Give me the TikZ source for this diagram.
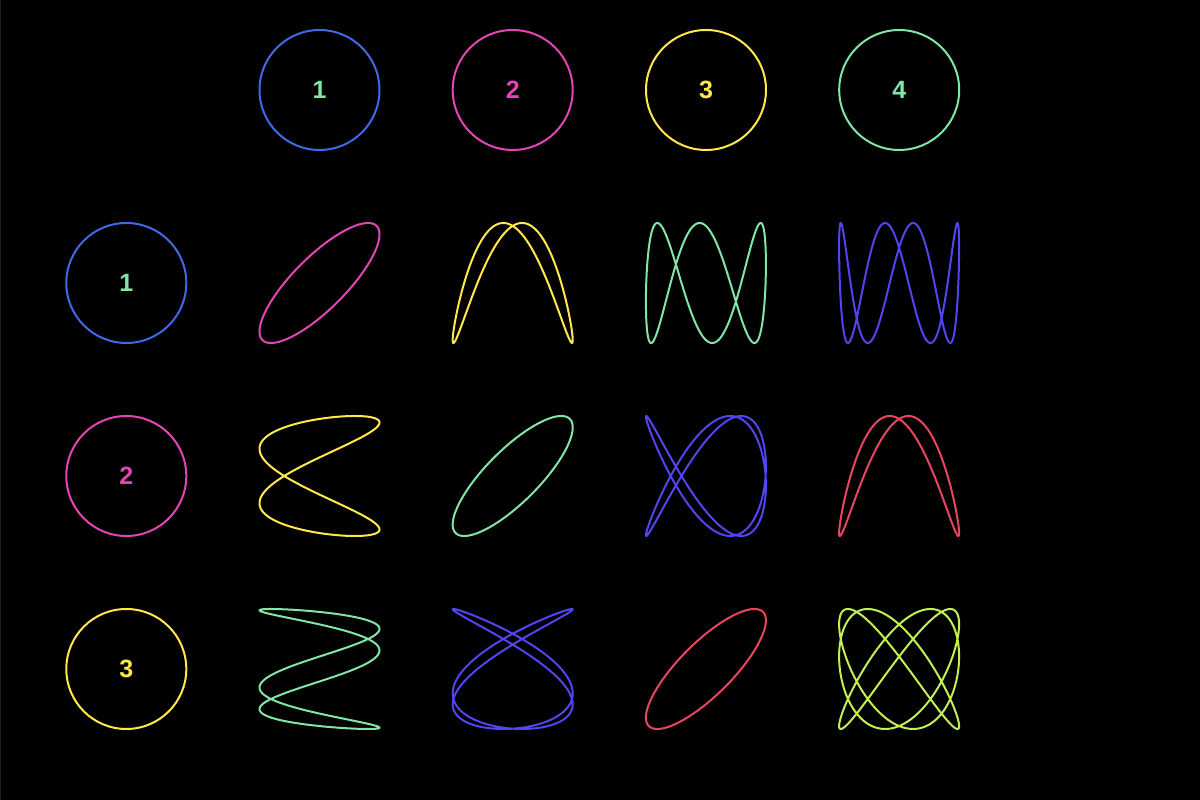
\documentclass[tikz,border=0pt]{standalone}
\usepackage{fontspec}
\setmainfont{Liberation Sans}
\definecolor{cblue}{HTML}{4169E6}
\definecolor{cpink}{HTML}{E445B4}
\definecolor{cyellow}{HTML}{FFE94A}
\definecolor{cmint}{HTML}{80E6A6}
\definecolor{cviolet}{HTML}{5244F0}
\definecolor{cred}{HTML}{E8465F}
\definecolor{clime}{HTML}{C2F052}
\colorlet{s2}{cpink}
\colorlet{s3}{cyellow}
\colorlet{s4}{cmint}
\colorlet{s5}{cviolet}
\colorlet{s6}{cred}
\colorlet{s7}{clime}
\begin{document}
\begin{tikzpicture}[x=1pt,y=1pt,
  lissa/.style={line width=2pt, line join=round},
  head/.style={circle, draw, line width=2pt, minimum size=120pt, inner sep=0pt,
    font=\bfseries\fontsize{25}{25}\selectfont}]
\fill[black] (0,0) rectangle (1200,800);
\useasboundingbox (0,0) rectangle (1200,800);
\draw[black!88!white, line width=1pt] (0.5,0) -- (0.5,800);
% column headers
\node[head, draw=cblue, text=cmint] (col1) at (319.5,710) {1};
\node[head, draw=cpink, text=cpink] (col2) at (512.7,710) {2};
\node[head, draw=cyellow, text=cyellow] (col3) at (706,710) {3};
\node[head, draw=cmint, text=cmint] (col4) at (899.2,710) {4};
% row headers
\node[head, draw=cblue, text=cmint] (row1) at (126.3,517) {1};
\node[head, draw=cpink, text=cpink] (row2) at (126.3,324) {2};
\node[head, draw=cyellow, text=cyellow] (row3) at (126.3,131) {3};
% curves
\foreach \r in {1,2,3}{
  \foreach \c in {1,2,3,4}{
    \pgfmathsetmacro\cx{126.3+193.2*\c}
    \pgfmathsetmacro\cy{710-193*\r}
    \pgfmathtruncatemacro\s{\r+\c}
    \draw[lissa, color=s\s] plot[domain=0:360, samples=361, variable=\t]
      ({\cx+60*sin(\r*\t-36)}, {\cy+60*sin(\c*\t)}) -- cycle;
  }
}
\end{tikzpicture}
\end{document}
